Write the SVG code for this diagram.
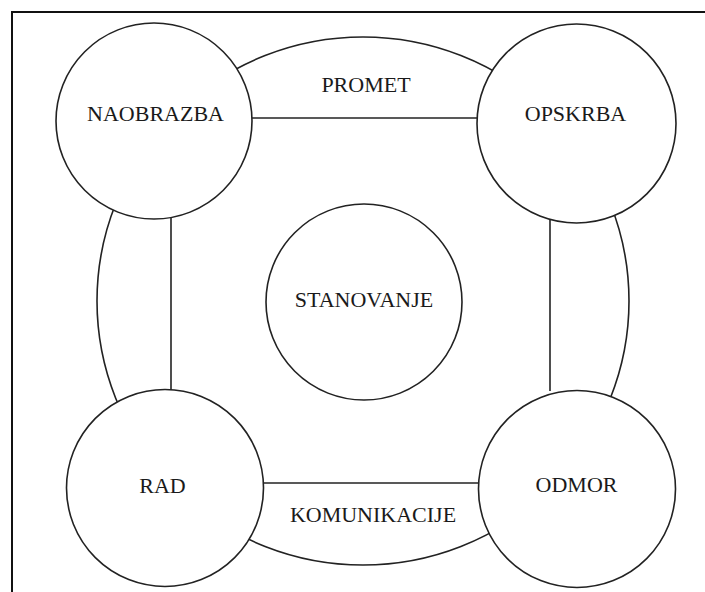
<svg xmlns="http://www.w3.org/2000/svg" width="705" height="592" viewBox="0 0 705 592">
<style>
.ln{fill:none;stroke:#222;stroke-width:1.6}
.nd{fill:#fff;stroke:#222;stroke-width:1.6}
.t{font-family:'Liberation Serif','Times New Roman',Times,'DejaVu Serif',serif;font-size:22px;fill:#1a1a1a;text-anchor:middle}
</style>
<rect width="705" height="592" fill="#fff"/>
<path d="M12,592 V12 H705" fill="none" stroke="#111" stroke-width="2"/>
<g id="connectors">
<ellipse class="ln" cx="363" cy="301" rx="266" ry="264"/>
<line class="ln" x1="252" y1="118" x2="477" y2="118"/>
<line class="ln" x1="264" y1="483" x2="479" y2="483"/>
<line class="ln" x1="171" y1="218" x2="171" y2="390"/>
<line class="ln" x1="550" y1="219" x2="550" y2="391"/>
</g>
<text class="t" x="366" y="92" font-family="Liberation Serif, serif">PROMET</text>
<text class="t" x="373" y="522" font-family="Liberation Serif, serif">KOMUNIKACIJE</text>
<g id="naobrazba"><circle class="nd" cx="154" cy="121" r="98"/><text class="t" x="155.5" y="121" font-family="Liberation Serif, serif">NAOBRAZBA</text></g>
<g id="opskrba"><circle class="nd" cx="576.5" cy="123.5" r="99.5"/><text class="t" x="575.5" y="121" font-family="Liberation Serif, serif">OPSKRBA</text></g>
<g id="rad"><circle class="nd" cx="165" cy="488" r="98.5"/><text class="t" x="162.5" y="493" font-family="Liberation Serif, serif">RAD</text></g>
<g id="odmor"><circle class="nd" cx="577" cy="489" r="98.5"/><text class="t" x="576.5" y="492" font-family="Liberation Serif, serif">ODMOR</text></g>
<g id="stanovanje"><circle class="nd" cx="364" cy="302" r="98"/><text class="t" x="364" y="307" font-family="Liberation Serif, serif">STANOVANJE</text></g>
</svg>
